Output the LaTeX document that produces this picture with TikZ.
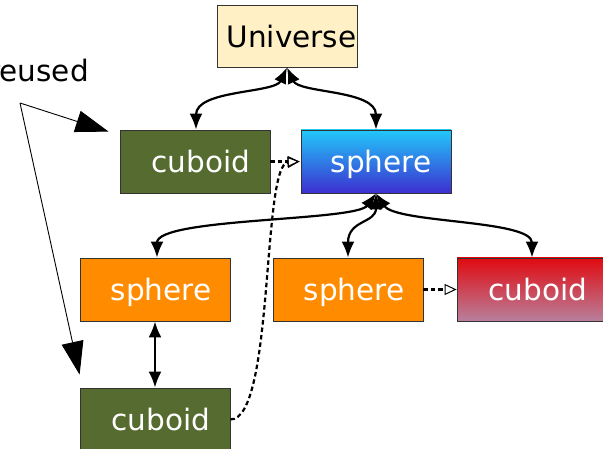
\documentclass[tikz,border=0pt]{standalone}
\usepackage{fontspec}
\setmainfont{DejaVu Sans}
\usetikzlibrary{arrows.meta}
\definecolor{univ}{HTML}{FFF0C6}
\definecolor{olivebox}{HTML}{556B2F}
\definecolor{dorange}{HTML}{FF8C00}
\definecolor{bluetop}{HTML}{22C8FA}
\definecolor{bluebot}{HTML}{3C2FD0}
\definecolor{redtop}{HTML}{E00A10}
\definecolor{redbot}{HTML}{B8809C}
\definecolor{edgecol}{HTML}{333333}
\begin{document}
\begin{tikzpicture}[x=1pt,y=-1pt,
  box/.style={draw=edgecol, line width=0.8pt, minimum width=150pt, minimum height=63pt,
    inner sep=0pt, text depth=0pt, text=white, font=\fontsize{29.5pt}{34pt}\selectfont},
  link/.style={line width=2.2pt, {Latex[length=16pt,width=13pt]}-{Latex[length=16pt,width=13pt]}},
  dep/.style={line width=2.2pt, dash pattern=on 4.5pt off 3pt,
    -{Triangle[open,length=12pt,width=11pt,line width=1pt]}},
  reuse/.style={line width=0.9pt, -{Triangle[length=33pt,width=22pt]}}]
\useasboundingbox (0,0) rectangle (603,449);
\clip (0,0) rectangle (603,449);
\node[box, fill=univ, text=black, minimum width=140pt, minimum height=62pt] (U) at (287,36) {\hspace*{9pt}Universe};
\node[box, fill=olivebox] (G) at (195,161.5) {\hspace*{12pt}cuboid};
\node[box, top color=bluetop, bottom color=bluebot, draw=edgecol] (B) at (376,161.5) {\hspace*{10pt}sphere};
\node[box, fill=dorange] (OL) at (155,289.5) {\hspace*{12pt}sphere};
\node[box, fill=dorange] (OM) at (348,289.5) {\hspace*{12pt}sphere};
\node[box, top color=redtop, bottom color=redbot, draw=edgecol] (R) at (532,289.5) {\hspace*{12pt}cuboid};
\node[box, fill=olivebox] (BC) at (155,419.5) {\hspace*{12pt}cuboid};
\node[anchor=base west, inner sep=0pt, font=\fontsize{29.5pt}{34pt}\selectfont] (reused) at (-12,82) {reused};
\coordinate (r0) at (20,103);
% solid links
\draw[link] (U.south) .. controls +(-12,26) and +(0,-40) .. ([xshift=1pt]G.north);
\draw[link] (U.south) .. controls +(12,26) and +(0,-40) .. (B.north);
\draw[link] (B.south) .. controls +(-20,28) and +(0,-40) .. ([xshift=2pt]OL.north);
\draw[link] (B.south) .. controls +(0,30) and +(0,-38) .. (OM.north);
\draw[link] (B.south) .. controls +(20,30) and +(0,-38) .. (R.north);
\draw[link] (OL.south) -- (BC.north);
% dashed dependencies
\draw[dep] (G.east) -- ([xshift=-1pt]B.west);
\draw[dep] (BC.east) .. controls +(44,0) and +(-38,3) .. ([xshift=-1pt]B.west);
\draw[dep] (OM.east) -- (R.west);
% reused pointers
\draw[reuse] (r0) -- ([xshift=-11pt,yshift=-2pt]G.north west);
\draw[reuse] (r0) -- ([yshift=13pt]BC.north west);
\end{tikzpicture}
\end{document}
